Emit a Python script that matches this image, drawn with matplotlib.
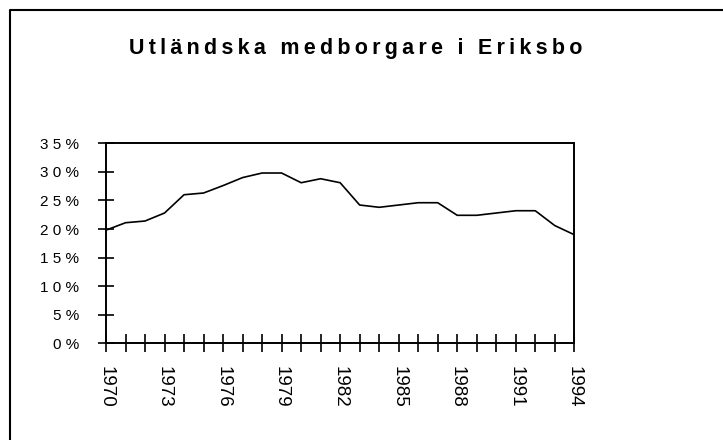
import matplotlib
matplotlib.use("Agg")
import matplotlib.pyplot as plt
from matplotlib.lines import Line2D

# -------- Data --------
years = list(range(1970, 1995))
share = [19.8, 21.1, 21.4, 22.8, 26.0, 26.3, 27.6, 29.0, 29.8, 29.8,
         28.1, 28.8, 28.1, 24.2, 23.8, 24.2, 24.6, 24.6, 22.4, 22.4,
         22.8, 23.2, 23.2, 20.6, 19.0]
y_ticks = [0, 5, 10, 15, 20, 25, 30, 35]
title = "Utländska medborgare i Eriksbo"


def spaced(s, sep="\u2009"):
    return sep.join(s)


fig = plt.figure(figsize=(7.23, 4.40), dpi=100)
ax = fig.add_axes([106 / 723, 1 - 343.3 / 440, (574.3 - 106) / 723, 200 / 440])

ax.plot(years, share, color="black", linewidth=1.2)

ax.set_xlim(1970, 1994)
ax.set_ylim(0, 35)

ax.set_xticks(years)
ax.set_xticklabels([str(y) if (y - 1970) % 3 == 0 else "" for y in years],
                   rotation=270, fontsize=13.5,
                   family=["Liberation Sans Narrow", "Liberation Sans", "DejaVu Sans"])
ax.set_yticks(y_ticks)
ax.set_yticklabels([" ".join(str(v)) + " %" for v in y_ticks], fontsize=11,
                   family=["Liberation Sans", "DejaVu Sans"])

ax.tick_params(axis="x", direction="inout", length=13, width=1.2, pad=10)
ax.tick_params(axis="y", direction="inout", length=11.5, width=1.2, pad=13.5)

for side in ["left", "bottom", "top", "right"]:
    ax.spines[side].set_linewidth(1.4)

# outer frame (only top and left edges fall inside the picture)
fig.add_artist(Line2D([10 / 723, 10 / 723, 1.01], [-0.01, 1 - 10.5 / 440, 1 - 10.5 / 440],
                      transform=fig.transFigure, color="black", linewidth=1.5))

fig.text(356 / 723, 1 - 54 / 440, spaced(title), ha="center", va="baseline",
         fontsize=15.5, fontweight="bold", family=["Liberation Sans", "DejaVu Sans"])

fig.savefig("out.png", dpi=100)
